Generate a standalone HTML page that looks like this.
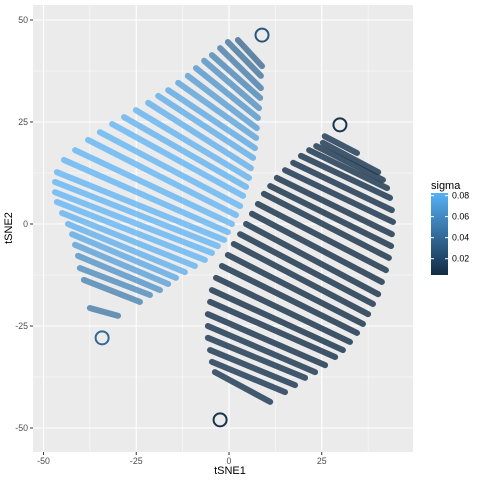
<!DOCTYPE html>
<html><head><meta charset="utf-8"><style>
body{margin:0;background:#fff;}
svg{display:block;font-family:"Liberation Sans",sans-serif;}
</style></head><body>
<svg id="chart" width="480" height="480">
<defs><linearGradient id="cbar" x1="0" y1="1" x2="0" y2="0">
<stop offset="0" stop-color="#132B43"/><stop offset="1" stop-color="#56B1F7"/></linearGradient></defs>
<rect x="33" y="5" width="380" height="447" fill="#EBEBEB"/>
<g id="grid"></g>
<g id="marks"></g>
<g id="axes"></g>
<text x="230" y="474" font-size="11" text-anchor="middle" fill="#000">tSNE1</text>
<text x="12" y="228" font-size="11" text-anchor="middle" fill="#000" transform="rotate(-90 12 228)">tSNE2</text>
<g>
<text x="431" y="189" font-size="11">sigma</text>
<rect x="431" y="193" width="17" height="82" fill="url(#cbar)"/>
<g id="legend-ticks"></g>
</g>
</svg>
<script>
const xTicks=[-50,-25,0,25];
const yTicks=[-50,-25,0,25,50];
const xMinor=[-37.5,-12.5,12.5,37.5];
const yMinor=[-37.5,-12.5,12.5,37.5];
const legendTicks=[0.02,0.04,0.06,0.08];
// stripes: [x1,y1,x2,y2,sigma] in data units
const leftStripes=[
[-37.5,-20.6,-29.9,-22.5,0.045],[-39.1,-13.7,-24.0,-19.1,0.05],[-40.2,-10.8,-21.3,-17.4,0.055],
[-40.7,-7.8,-18.6,-16.2,0.06],[-41.5,-5.1,-16.4,-14.7,0.068],[-42.3,-2.5,-14.3,-13.2,0.074],
[-43.4,0,-11.9,-11.8,0.078],[-45.0,2.7,-9.2,-10.3,0.08],[-46.4,5.4,-6.5,-8.8,0.082],
[-46.9,7.8,-4.6,-7.1,0.082],[-46.9,10.3,-3.0,-5.4,0.082],[-46.4,12.7,-1.3,-3.9,0.082],
[-44.5,15.7,-0.3,-2.0,0.082],[-41.5,18.1,0.8,0,0.082],[-38.0,20.6,1.9,2.2,0.082],
[-34.8,22.5,3.0,4.4,0.082],[-31.5,24.5,3.8,6.9,0.082],[-28.3,26.2,4.6,9.1,0.08],
[-25.1,27.9,5.4,11.3,0.08],[-21.8,29.7,5.9,13.7,0.078],[-19.1,31.4,6.5,16.2,0.076],
[-16.4,32.8,7.0,18.6,0.074],[-13.7,34.6,7.3,21.1,0.07],[-11.1,36.3,7.5,23.5,0.066],
[-8.9,38.2,7.8,26.0,0.062],[-6.7,40.0,8.1,28.4,0.058],[-4.6,41.4,8.4,30.9,0.052],
[-2.4,43.1,8.6,33.3,0.046],[-0.3,44.6,8.6,36.3,0.04],[2.4,45.1,8.9,38.7,0.035]];
const rightStripes=[
[-3.8,-36.3,11.1,-43.6,0.01],[-4.6,-33.8,15.1,-41.2,0.01],[-5.1,-30.9,17.8,-39.5,0.009],
[-5.7,-27.9,20.5,-37.7,0.009],[-5.7,-25.0,23.2,-36.3,0.008],[-5.7,-22.1,25.9,-34.6,0.007],
[-5.1,-19.1,28.6,-32.6,0.007],[-4.6,-16.2,30.7,-30.9,0.006],[-3.5,-13.2,32.6,-28.9,0.006],
[-1.9,-10.3,34.5,-26.7,0.006],[-0.3,-7.6,36.1,-24.5,0.006],[1.3,-4.9,37.5,-22.1,0.006],
[3.0,-2.5,38.8,-19.6,0.006],[4.6,0,40.2,-17.2,0.006],[6.2,2.5,41.2,-14.2,0.006],
[7.8,4.9,42.3,-11.3,0.006],[9.4,7.4,43.1,-8.3,0.006],[11.1,9.3,43.7,-5.4,0.006],
[12.9,11.3,43.9,-2.5,0.006],[15.1,13.2,44.2,0.5,0.007],[17.3,15.0,43.9,3.4,0.007],
[19.4,16.7,43.4,6.4,0.007],[21.6,18.1,42.6,8.8,0.008],[23.5,19.1,41.5,10.8,0.008],
[25.3,19.9,40.2,12.7,0.009],[25.8,21.5,34.5,17.4,0.01]];
// rings: [x,y,sigma]
const rings=[[8.9,46.3,0.03],[-34.2,-27.9,0.04],[29.9,24.3,0.01],[-2.4,-48.0,0.01]];

const X=v=>229+v*3.71, Y=v=>224-v*4.08;
const LY=v=>193+(0.0825-v)/(0.0825-0.0045)*82;
const NS='http://www.w3.org/2000/svg';
function mk(tag,attrs,parent){const e=document.createElementNS(NS,tag);for(const k in attrs)e.setAttribute(k,attrs[k]);parent.appendChild(e);return e;}
function col(s){const t=Math.max(0,Math.min(1,(s-0.0045)/0.078));
const a=[19,43,67],b=[86,177,247];return `rgb(${a.map((v,i)=>Math.round(v+(b[i]-v)*t)).join(',')})`;}
const grid=document.getElementById('grid'),marks=document.getElementById('marks'),axes=document.getElementById('axes'),lt=document.getElementById('legend-ticks');
xMinor.forEach(v=>{const l=mk('line',{x1:X(v),x2:X(v),y1:5,y2:452,stroke:'#fff','stroke-width':0.5},grid);
});
yMinor.forEach(v=>{const l=mk('line',{x1:33,x2:413,y1:Y(v),y2:Y(v),stroke:'#fff','stroke-width':0.5},grid);
});
xTicks.forEach(v=>{const l=mk('line',{x1:X(v),x2:X(v),y1:5,y2:452,stroke:'#fff','stroke-width':1.1},grid);

const t=mk('line',{x1:X(v),x2:X(v),y1:452,y2:455,stroke:'#333','stroke-width':1},axes);

const tx=mk('text',{x:X(v),y:464,'font-size':8.8,'text-anchor':'middle',fill:'#4D4D4D'},axes);tx.textContent=v;
});
yTicks.forEach(v=>{const l=mk('line',{x1:33,x2:413,y1:Y(v),y2:Y(v),stroke:'#fff','stroke-width':1.1},grid);

const t=mk('line',{x1:30,x2:33,y1:Y(v),y2:Y(v),stroke:'#333','stroke-width':1},axes);

const tx=mk('text',{x:28,y:Y(v)+3,'font-size':8.8,'text-anchor':'end',fill:'#4D4D4D'},axes);tx.textContent=v;
});
function drawStripes(arr,name,w,op){arr.forEach(s=>{
const l=mk('line',{x1:X(s[0]),y1:Y(s[1]),x2:X(s[2]),y2:Y(s[3]),stroke:col(s[4]),'stroke-width':w,'stroke-linecap':'round',opacity:op},marks);
});}
drawStripes(leftStripes,'left-cluster-stripe',6,0.72);
drawStripes(rightStripes,'right-cluster-stripe',6,0.8);
rings.forEach(r=>{const c=mk('circle',{cx:X(r[0]),cy:Y(r[1]),r:6.5,fill:'none',stroke:col(r[2]),'stroke-width':2},marks);
});
legendTicks.forEach(v=>{
const a=mk('line',{x1:431,x2:434,y1:LY(v),y2:LY(v),stroke:'#fff','stroke-width':1},lt);

const b=mk('line',{x1:445,x2:448,y1:LY(v),y2:LY(v),stroke:'#fff','stroke-width':1},lt);

const t=mk('text',{x:452,y:LY(v)+3,'font-size':8.8,fill:'#000'},lt);t.textContent=v.toFixed(2);
});
</script>
</body></html>
